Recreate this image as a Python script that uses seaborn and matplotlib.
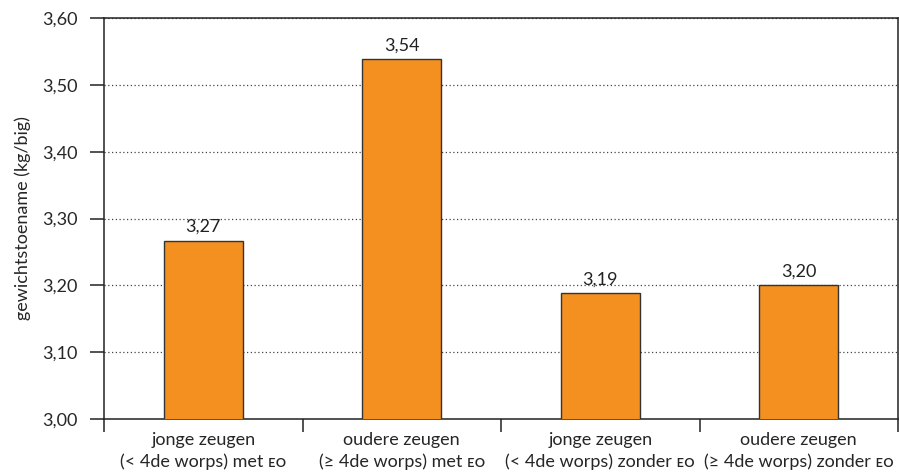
import matplotlib
matplotlib.use("Agg")
import matplotlib.pyplot as plt
import seaborn as sns
import pandas as pd
import numpy as np

# Gewichtstoename per big, naar leeftijd van de zeug en wel/geen EO
groepen = ["jonge zeugen\n(< 4de worps) met ᴇᴏ",
           "oudere zeugen\n(≥ 4de worps) met ᴇᴏ",
           "jonge zeugen\n(< 4de worps) zonder ᴇᴏ",
           "oudere zeugen\n(≥ 4de worps) zonder ᴇᴏ"]
toename = [3.267, 3.538, 3.188, 3.200]
y_ticks = [3.00, 3.10, 3.20, 3.30, 3.40, 3.50, 3.60]

df = pd.DataFrame({"groep": groepen, "toename": toename})

sns.set_theme(style="white")
plt.rcParams["font.family"] = ["Lato", "DejaVu Sans"]
plt.rcParams["text.color"] = "#222222"

FS = 13

fig = plt.figure(figsize=(8.99, 4.76), dpi=100)
ax = fig.add_axes([104 / 899, 1 - 419 / 476, (898 - 104) / 899, (419 - 18) / 476])

sns.barplot(data=df, x="groep", y="toename", color="#F39020", saturation=1,
            width=0.4, edgecolor="#333333", linewidth=1.0, ax=ax, zorder=3)

ax.set_ylim(3.0, 3.6)
ax.set_xlim(-0.5, len(groepen) - 0.5)
ax.set_yticks(y_ticks)
ax.set_yticklabels([f"{v:.2f}".replace(".", ",") for v in y_ticks], fontsize=FS)
ax.yaxis.grid(True, linestyle=(0, (1, 2)), color="#444444", linewidth=0.9, zorder=0)
ax.set_axisbelow(True)

# categorie-labels in het midden, streepjes op de grenzen
ax.set_xticks(range(len(groepen)))
ax.set_xticklabels(groepen, fontsize=FS, linespacing=1.45)
ax.set_xticks(np.arange(-0.5, len(groepen)), minor=True)
ax.tick_params(axis="x", which="major", length=0, pad=9, bottom=True)
ax.tick_params(axis="x", which="minor", length=9, width=1.1, color="#222222",
               direction="out", bottom=True)
ax.tick_params(axis="y", length=10, width=1.1, color="#222222", pad=9, direction="out",
               left=True)
ax.set_xlabel("")
ax.set_ylabel("gewichtstoename (kg/big)", fontsize=FS, labelpad=8)

for side in ["left", "right", "top", "bottom"]:
    ax.spines[side].set_visible(True)
    ax.spines[side].set_color("#222222")
    ax.spines[side].set_linewidth(1.1)

for i, v in enumerate(toename):
    ax.annotate(f"{v:.2f}".replace(".", ","), (i, v), xytext=(0, 4),
                textcoords="offset points", ha="center", va="bottom", fontsize=FS)

fig.savefig("out.png", dpi=100)
